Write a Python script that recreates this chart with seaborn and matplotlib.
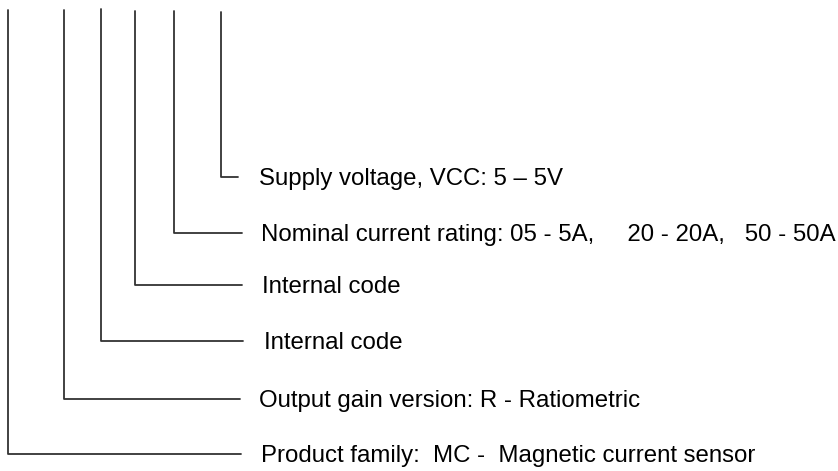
import matplotlib
matplotlib.use("Agg")
import matplotlib.pyplot as plt
import seaborn as sns
import pandas as pd

# part-number breakdown: one connector per field, drawn in pixel coords
labels = [
    "Supply voltage, VCC: 5 \u2013 5V",
    "Nominal current rating: 05 - 5A,     20 - 20A,   50 - 50A",
    "Internal code",
    "Internal code",
    "Output gain version: R - Ratiometric",
    "Product family:  MC -  Magnetic current sensor",
]
stem_x = [221, 174, 135, 101, 64, 8]
stem_top = [12, 11, 11, 9, 10, 10]
row_y = [177, 233, 285, 341, 399, 454]
line_end = [238, 242, 242, 243, 240, 241]
text_x = [259, 261, 262, 264, 259, 261]

rows = []
for i, lab in enumerate(labels):
    rows.append({"id": i, "step": 0, "x": stem_x[i], "y": stem_top[i]})
    rows.append({"id": i, "step": 1, "x": stem_x[i], "y": row_y[i]})
    rows.append({"id": i, "step": 2, "x": line_end[i], "y": row_y[i]})
df = pd.DataFrame(rows)

sns.set_style("white")
plt.rcParams["font.family"] = ["Liberation Sans", "DejaVu Sans"]

fig = plt.figure(figsize=(8.38, 4.71), dpi=100)
ax = fig.add_axes([0, 0, 1, 1])
sns.lineplot(data=df, x="x", y="y", units="id", estimator=None, sort=False,
             color="#333333", linewidth=1.3, ax=ax, legend=False)

for i, lab in enumerate(labels):
    ax.text(text_x[i], row_y[i] + 8, lab, fontsize=17.3, color="black",
            va="baseline", ha="left")

ax.set_xlim(0, 838)
ax.set_ylim(471, 0)
ax.axis("off")
fig.savefig("out.png", dpi=100)
